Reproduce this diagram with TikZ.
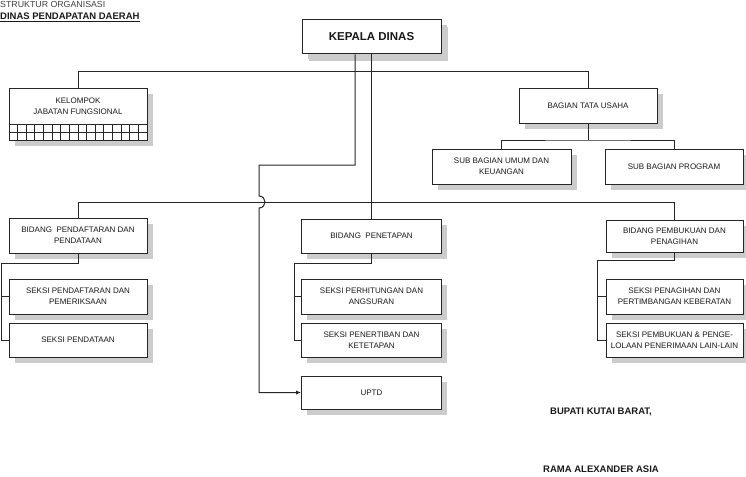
\documentclass[tikz,border=0pt]{standalone}
\usepackage{fontspec}
\setmainfont{Liberation Sans}
\usetikzlibrary{shadows,arrows.meta,calc}
\begin{document}
\begin{tikzpicture}[x=1pt,y=-1pt,
  box/.style={draw=black!85, line width=1pt, fill=white, inner sep=0pt,
    minimum width=138pt, minimum height=34pt, align=center, text=black!90,
    font=\fontsize{8}{11}\selectfont,
    drop shadow={shadow xshift=5.5pt, shadow yshift=-5.5pt, fill=gray!40, opacity=1}},
  conn/.style={draw=black!85, line width=1pt},
  lbl/.style={inner sep=0pt, align=center, text=black!90, font=\fontsize{8}{11}\selectfont},
  sig/.style={inner sep=0pt, text=black!90, font=\fontsize{9.5}{11}\selectfont\bfseries}
]
\useasboundingbox (0,0) rectangle (746,476);

% titles
\node[inner sep=0pt, anchor=base west, text=black!75, font=\fontsize{8.8}{10}\selectfont] (t1) at (0,8) {STRUKTUR ORGANISASI};
\node[inner sep=0pt, anchor=base west, text=black!90, font=\fontsize{9.5}{11}\selectfont\bfseries] (t2) at (0,19.5) {\underline{DINAS PENDAPATAN DAERAH}};

% boxes
\node[box, minimum width=139pt, font=\fontsize{11.5}{13}\selectfont\bfseries, drop shadow={shadow xshift=6.5pt, shadow yshift=-7pt, fill=gray!40, opacity=1}] (kd) at (371.5,37) {KEPALA DINAS};

\node[box, minimum height=51pt, drop shadow={shadow xshift=6pt, shadow yshift=-6pt, fill=gray!40, opacity=1}] (kjf) at (78,114.5) {};
\node[lbl] (kjft) at (78,106) {KELOMPOK\\JABATAN FUNGSIONAL};

\node[box] (bts) at (588,106) {BAGIAN TATA USAHA};
\node[box, minimum width=139pt, minimum height=35pt] (sbu) at (501.5,166.5) {SUB BAGIAN UMUM DAN\\KEUANGAN};
\node[box, minimum height=35pt] (sbp) at (674,166.5) {SUB BAGIAN PROGRAM};

\node[box, minimum height=35pt] (bpd) at (78,235.5) {BIDANG \ PENDAFTARAN DAN\\PENDATAAN};
\node[box, minimum height=35pt] (spp) at (78,296.5) {SEKSI PENDAFTARAN DAN\\PEMERIKSAAN};
\node[box] (spd) at (78,340) {SEKSI PENDATAAN};

\node[box, minimum width=140pt] (bpt) at (371.5,236) {BIDANG \ PENETAPAN};
\node[box, minimum width=140pt, minimum height=35pt] (sph) at (371.5,296.5) {SEKSI PERHITUNGAN DAN\\ANGSURAN};
\node[box, minimum width=140pt] (spn) at (371.5,340) {SEKSI PENERTIBAN DAN\\KETETAPAN};
\node[box, minimum width=140pt, minimum height=33pt] (uptd) at (371.5,392.5) {UPTD};

\node[box, minimum width=137pt, minimum height=32pt] (bpp) at (674.5,236) {BIDANG PEMBUKUAN DAN\\PENAGIHAN};
\node[box, minimum width=137pt, minimum height=35pt] (spk) at (674.5,296.5) {SEKSI PENAGIHAN DAN\\PERTIMBANGAN KEBERATAN};
\node[box, minimum width=137pt] (sbl) at (674.5,340) {SEKSI PEMBUKUAN \& PENGE-\\LOLAAN PENERIMAAN LAIN-LAIN};

% grid in kelompok box
\draw[conn] (9,124) -- (147,124);
\draw[conn] (9,132) -- (147,132);
\foreach \k in {1,...,15} {
  \draw[conn] ({9+\k*138/16},124) -- ({9+\k*138/16},140);
}

% coordinates for buses
\coordinate (topbus) at (0,72);
\coordinate (midbus) at (0,202);
\coordinate (ub1) at (355,165);
\coordinate (ub2) at (259,196);
\coordinate (ub3) at (259,208);
\coordinate (lb) at (1,263);
\coordinate (mb) at (294,263);
\coordinate (rb) at (597,260);

% connectors
\draw[conn] (kjf.north) -- (kjf.north |- topbus) -- (bts.north |- topbus) -- (bts.north);
\draw[conn] (kd.south) -- (bpt.north);
\draw[conn] (bpd.north) -- (bpd.north |- midbus) -- (bpp.north |- midbus) -- (bpp.north);

\draw[conn, -{Latex[length=5pt,width=4.5pt]}] (kd.south -| ub1) -- (ub1) -| (ub2)
  .. controls (267,196) and (267,208) .. (ub3) |- (uptd.west);

\draw[conn] (bts.south) -- (bts.south |- 0,140);
\draw[conn] (sbu.north) |- (bts.south |- 0,140) -| (sbp.north);

\draw[conn] (bpd.south) |- (lb) |- (spd.west);
\draw[conn] (lb |- spp.west) -- (spp.west);

\draw[conn] (bpt.south) |- (mb) |- (spn.west);
\draw[conn] (mb |- sph.west) -- (sph.west);

\draw[conn] (bpp.south) |- (rb) |- (sbl.west);
\draw[conn] (rb |- spk.west) -- (spk.west);

% signature
\node[sig] (s1) at (601,412) {BUPATI KUTAI BARAT,};
\node[sig] (s2) at (601,469) {RAMA ALEXANDER ASIA};
\end{tikzpicture}
\end{document}
